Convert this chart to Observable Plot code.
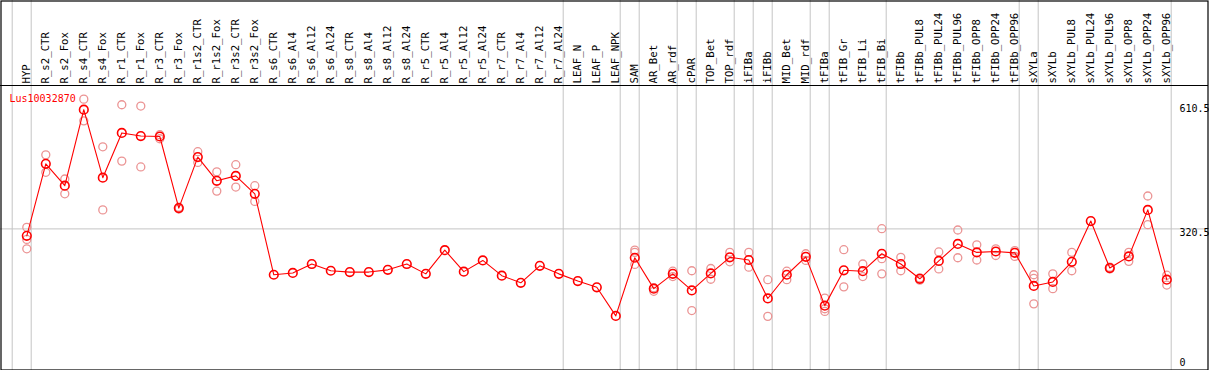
<!DOCTYPE html>
<html>
<head>
<meta charset="utf-8">
<script src="https://cdn.jsdelivr.net/npm/d3@7"></script>
<script src="https://cdn.jsdelivr.net/npm/@observablehq/plot@0.6"></script>
<style>
  html, body { margin: 0; padding: 0; background: #fff; }
  svg { display: block; }
</style>
</head>
<body>
<div id="chart"></div>
<script>
const geneName = "Lus10032870";

const categories = [
  "HYP", "R_s2_CTR", "R_s2_Fox", "R_s4_CTR", "R_s4_Fox", "R_r1_CTR", "R_r1_Fox",
  "R_r3_CTR", "R_r3_Fox", "R_r1s2_CTR", "R_r1s2_Fox", "R_r3s2_CTR", "R_r3s2_Fox",
  "R_s6_CTR", "R_s6_Al4", "R_s6_Al12", "R_s6_Al24", "R_s8_CTR", "R_s8_Al4",
  "R_s8_Al12", "R_s8_Al24", "R_r5_CTR", "R_r5_Al4", "R_r5_Al12", "R_r5_Al24",
  "R_r7_CTR", "R_r7_Al4", "R_r7_Al12", "R_r7_Al24", "LEAF_N", "LEAF_P", "LEAF_NPK",
  "SAM", "AR_Bet", "AR_rdf", "cPAR", "TOP_Bet", "TOP_rdf", "iFIBa", "iFIBb",
  "MID_Bet", "MID_rdf", "tFIBa", "tFIB_Gr", "tFIB_Li", "tFIB_Bi", "tFIBb",
  "tFIBb_PUL8", "tFIBb_PUL24", "tFIBb_PUL96", "tFIBb_OPP8", "tFIBb_OPP24", "tFIBb_OPP96",
  "sXYLa", "sXYLb", "sXYLb_PUL8", "sXYLb_PUL24", "sXYLb_PUL96", "sXYLb_OPP8",
  "sXYLb_OPP24", "sXYLb_OPP96"
];

// number of consecutive categories in each tissue group (separators drawn after each)
const groupSizes = [1, 28, 3, 1, 2, 1, 2, 1, 1, 2, 1, 3, 7, 1, 7];

const means = [
  305, 466, 417, 587, 435, 535, 528, 527, 367, 481, 428, 439, 399,
  218, 222, 242, 227, 224, 224, 229, 242, 220, 273, 225, 250,
  216, 200, 238, 220, 204, 190, 126,
  256, 187, 220, 183, 221, 257, 251, 165, 218, 258,
  149, 228, 226, 265, 242, 209, 249, 287, 268, 270, 267,
  193, 202, 247, 338, 233, 259, 363, 207
];

const replicates = [
  [324, 297, 276], [486, 447], [432, 399], [610.5, 562], [504, 363], [598, 472], [595, 459],
  [531, 522], [369, 365], [493, 469], [448, 405], [464, 414], [417, 382],
  [], [], [], [], [], [], [], [], [], [], [], [],
  [], [], [], [], [], [], [],
  [273, 268, 241], [181, 189], [226, 214], [227, 138], [232, 208], [268, 247],
  [268, 235], [207, 125], [226, 207], [265, 250],
  [166, 136, 142], [274, 191], [242, 214], [321, 220, 254], [257, 227],
  [211, 206], [269, 231], [318, 256], [285, 251], [276, 261], [272, 259],
  [218, 210, 153], [220, 187], [268, 227], [], [235, 231], [268, 248], [394, 330], [217, 195]
];

const yTickLabels = [610.5, 320.5, 0];
const yMax = 641;
const gridValue = 320.5;

// derived tables
const meanData = categories.map((c, i) => ({i, cat: c, v: means[i]}));
const repData = replicates.flatMap((arr, i) => arr.map(v => ({i, v})));
let cum = 0;
const separators = [-1];
for (const s of groupSizes) { cum += s; separators.push(cum - 1); }

const font = "DejaVu Sans Mono";

const chart = Plot.plot({
  width: 1209,
  height: 370,
  marginTop: 0,
  marginLeft: 0,
  marginRight: 1,
  marginBottom: 0,
  style: {fontFamily: font, background: "#fff", overflow: "hidden"},
  x: {type: "linear", domain: [0, categories.length - 1], range: [26.3, 1166.3], axis: null},
  y: {domain: [0, yMax], range: [371.8, 85], axis: null},
  marks: [
    Plot.ruleX(separators, {x: d => d, dx: 4.4, stroke: "#c4c4c4", strokeWidth: 1}),
    Plot.ruleY([gridValue], {stroke: "#c4c4c4", strokeWidth: 1}),
    Plot.ruleY([yMax], {stroke: "#000", strokeWidth: 1.2}),
    Plot.frame({stroke: "#000", strokeWidth: 1.2, inset: 0.5}),
    Plot.text(categories, {
      x: (d, i) => i, text: d => d, frameAnchor: "top", dy: 83,
      rotate: -90, textAnchor: "start", lineAnchor: "middle",
      fontSize: 10.7, fontFamily: font, fill: "#000"
    }),
    Plot.text([geneName], {
      text: d => d, frameAnchor: "top-left", dx: 9, dy: 98,
      textAnchor: "start", lineAnchor: "middle",
      fontSize: 10, fontFamily: font, fill: "red"
    }),
    Plot.text([yTickLabels[0]], {y: d => d, text: d => String(d), frameAnchor: "right", dx: -29, dy: 9.5,
      textAnchor: "start", lineAnchor: "middle", fontSize: 10, fontFamily: font, fill: "#000"}),
    Plot.text([yTickLabels[1]], {y: d => d, text: d => String(d), frameAnchor: "right", dx: -29, dy: 3.5,
      textAnchor: "start", lineAnchor: "middle", fontSize: 10, fontFamily: font, fill: "#000"}),
    Plot.text([yTickLabels[2]], {y: d => d, text: d => String(d), frameAnchor: "right", dx: -29, dy: -10,
      textAnchor: "start", lineAnchor: "middle", fontSize: 10, fontFamily: font, fill: "#000"}),
    Plot.dot(repData, {x: "i", y: "v", r: 4, stroke: "#eb9494", strokeWidth: 1.3, fill: "none"}),
    Plot.line(meanData, {x: "i", y: "v", stroke: "red", strokeWidth: 1.1}),
    Plot.dot(meanData, {x: "i", y: "v", r: 4.3, stroke: "red", strokeWidth: 1.6, fill: "none"})
  ]
});

document.getElementById("chart").appendChild(chart);
</script>
</body>
</html>
